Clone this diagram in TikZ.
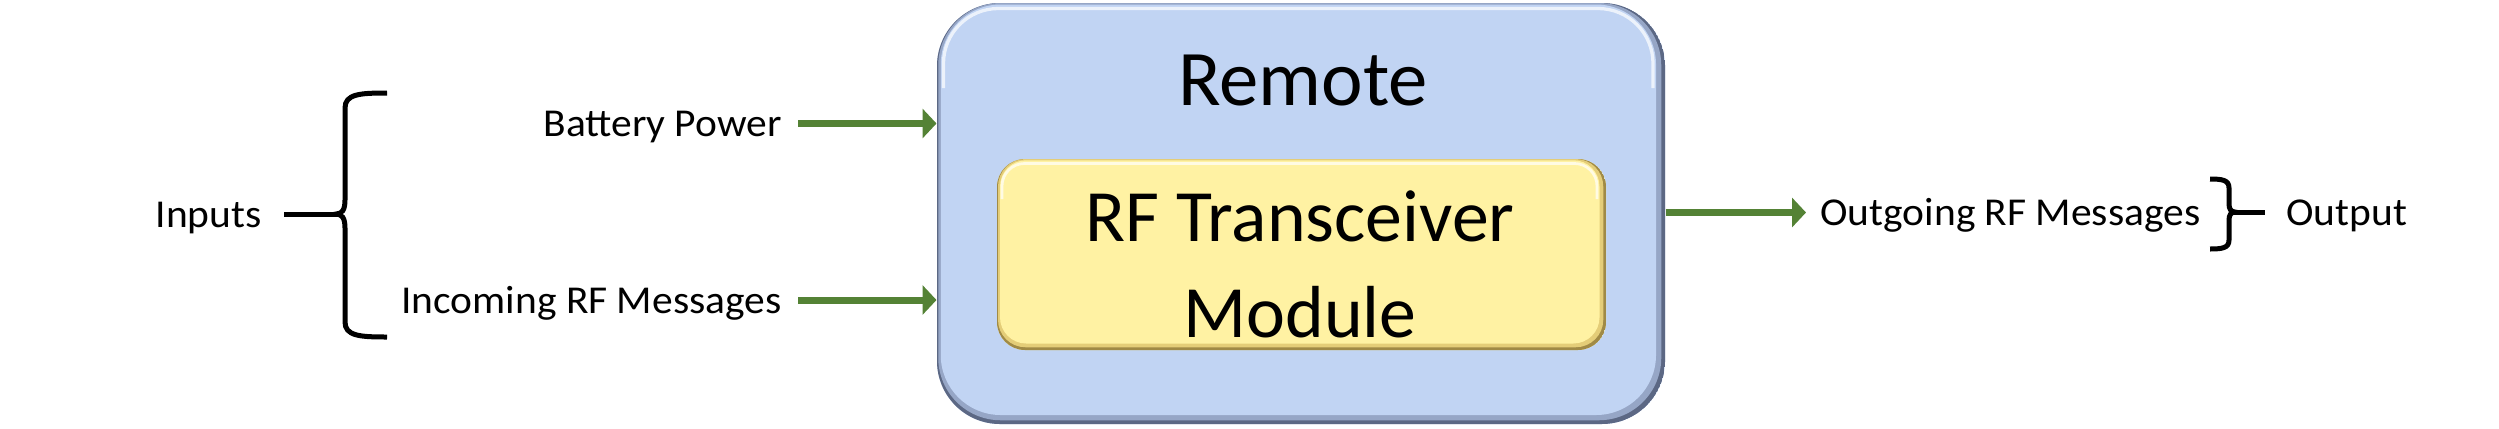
\documentclass[tikz,border=0pt]{standalone}
\usepackage{fontspec}
\setmainfont{Carlito}
\newfontfamily\lblfont[FakeStretch=1.05]{Carlito}
\usetikzlibrary{arrows.meta}
\definecolor{boxblue}{RGB}{193,212,243}
\definecolor{midblue}{RGB}{150,166,198}
\definecolor{edgeblue}{RGB}{92,104,132}
\definecolor{boxyellow}{RGB}{255,242,163}
\definecolor{midyellow}{RGB}{228,205,120}
\definecolor{edgeyellow}{RGB}{160,138,70}
\definecolor{arrowgreen}{RGB}{84,130,53}
\tikzset{
  outerbox/.style={rectangle, rounded corners=25.2pt, minimum width=291.2pt, minimum height=168.4pt,
    fill=boxblue, inner sep=0pt,
    path picture={
      \fill[edgeblue] (path picture bounding box.south west) rectangle (path picture bounding box.north east);
      \fill[midblue, rounded corners=25pt] ([xshift=0.5pt,yshift=1.5pt]path picture bounding box.south west) rectangle ([xshift=-1.5pt]path picture bounding box.north east);
      \fill[boxblue, rounded corners=24pt] ([xshift=1.5pt,yshift=3.6pt]path picture bounding box.south west) rectangle ([xshift=-3.6pt,yshift=-0.6pt]path picture bounding box.north east);
      \draw[white, opacity=.7, line width=1.3pt, rounded corners=22pt] ([xshift=2.6pt,yshift=-34pt]path picture bounding box.north west) -- ([xshift=2.6pt,yshift=-2.2pt]path picture bounding box.north west) -- ([xshift=-4.8pt,yshift=-2.2pt]path picture bounding box.north east) -- ([xshift=-4.8pt,yshift=-34pt]path picture bounding box.north east);
    }},
  innerbox/.style={rectangle, rounded corners=11.2pt, minimum width=243.6pt, minimum height=76.4pt,
    fill=boxyellow, inner sep=0pt,
    path picture={
      \fill[edgeyellow] (path picture bounding box.south west) rectangle (path picture bounding box.north east);
      \fill[midyellow, rounded corners=11pt] ([xshift=0.4pt,yshift=1.1pt]path picture bounding box.south west) rectangle ([xshift=-1.1pt]path picture bounding box.north east);
      \fill[boxyellow, rounded corners=10.5pt] ([xshift=1.2pt,yshift=2.6pt]path picture bounding box.south west) rectangle ([xshift=-2.6pt,yshift=-0.5pt]path picture bounding box.north east);
      \draw[white, opacity=.7, line width=1.1pt, rounded corners=9pt] ([xshift=2pt,yshift=-16pt]path picture bounding box.north west) -- ([xshift=2pt,yshift=-1.8pt]path picture bounding box.north west) -- ([xshift=-3.6pt,yshift=-1.8pt]path picture bounding box.north east) -- ([xshift=-3.6pt,yshift=-16pt]path picture bounding box.north east);
    }},
  titletext/.style={font=\fontsize{31.5pt}{38.4pt}\selectfont, inner sep=0pt},
  bigtext/.style={font=\fontsize{29.5pt}{38.4pt}\selectfont, inner sep=0pt},
  lbl/.style={font=\lblfont\fontsize{15.8pt}{19pt}\selectfont, inner sep=0pt, text height=10.6pt, text depth=0pt},
  arr/.style={draw=arrowgreen, line width=2.8pt, -{Triangle[length=5.6pt,width=11.6pt]}},
  bracestroke/.style={draw=black, line width=2pt}
}
\begin{document}
\begin{tikzpicture}[x=0.4pt,y=-0.4pt]
\useasboundingbox (0,0) rectangle (2499,428);
\fill[white] (0,0) rectangle (2499,428);

% boxes
\node[outerbox] (remote) at (1301,213.5) {};
\node[innerbox] (rf) at (1301.5,254.5) {};
\node[titletext, anchor=base] (remotetitle) at (1303,105) {Remote};
\node[bigtext, align=center] (rftext) at (1300,264) {RF Transceiver\\Module};

% labels
\node[lbl, anchor=east] (bp) at (782,123.5) {Battery Power};
\node[lbl, anchor=east] (inc) at (782,300) {Incoming RF Messages};
\node[lbl, anchor=west] (og) at (1820,212.5) {Outgoing RF Messages};
\node[lbl, anchor=east] (inputs) at (262,214) {Inputs};
\node[lbl, anchor=west] (output) at (2286,212) {Output};

% arrows
\draw[arr] ([xshift=6.4pt]bp.east) -- (bp.east -| remote.west);
\draw[arr] ([xshift=6.4pt]inc.east) -- (inc.east -| remote.west);
\draw[arr] (og.west -| remote.east) -- ([xshift=-5.6pt]og.west);

% left brace
\draw[bracestroke] (387,93) .. controls (360,93) and (345,94) .. (345,108) -- (345,200)
  .. controls (345,210) and (342,214) .. (336,214)
  .. controls (342,214) and (345,218) .. (345,228) -- (345,322)
  .. controls (345,336) and (360,337) .. (387,337);
\draw[bracestroke] (284,214) -- (338,214);

% right brace
\draw[bracestroke] (2210,179) .. controls (2222,179) and (2229,180) .. (2229,188) -- (2229,204)
  .. controls (2229,209) and (2231,212) .. (2235,212)
  .. controls (2231,212) and (2229,215) .. (2229,220) -- (2229,240)
  .. controls (2229,248) and (2222,249) .. (2210,249);
\draw[bracestroke] (2233,212) -- (2265,212);
\end{tikzpicture}
\end{document}
